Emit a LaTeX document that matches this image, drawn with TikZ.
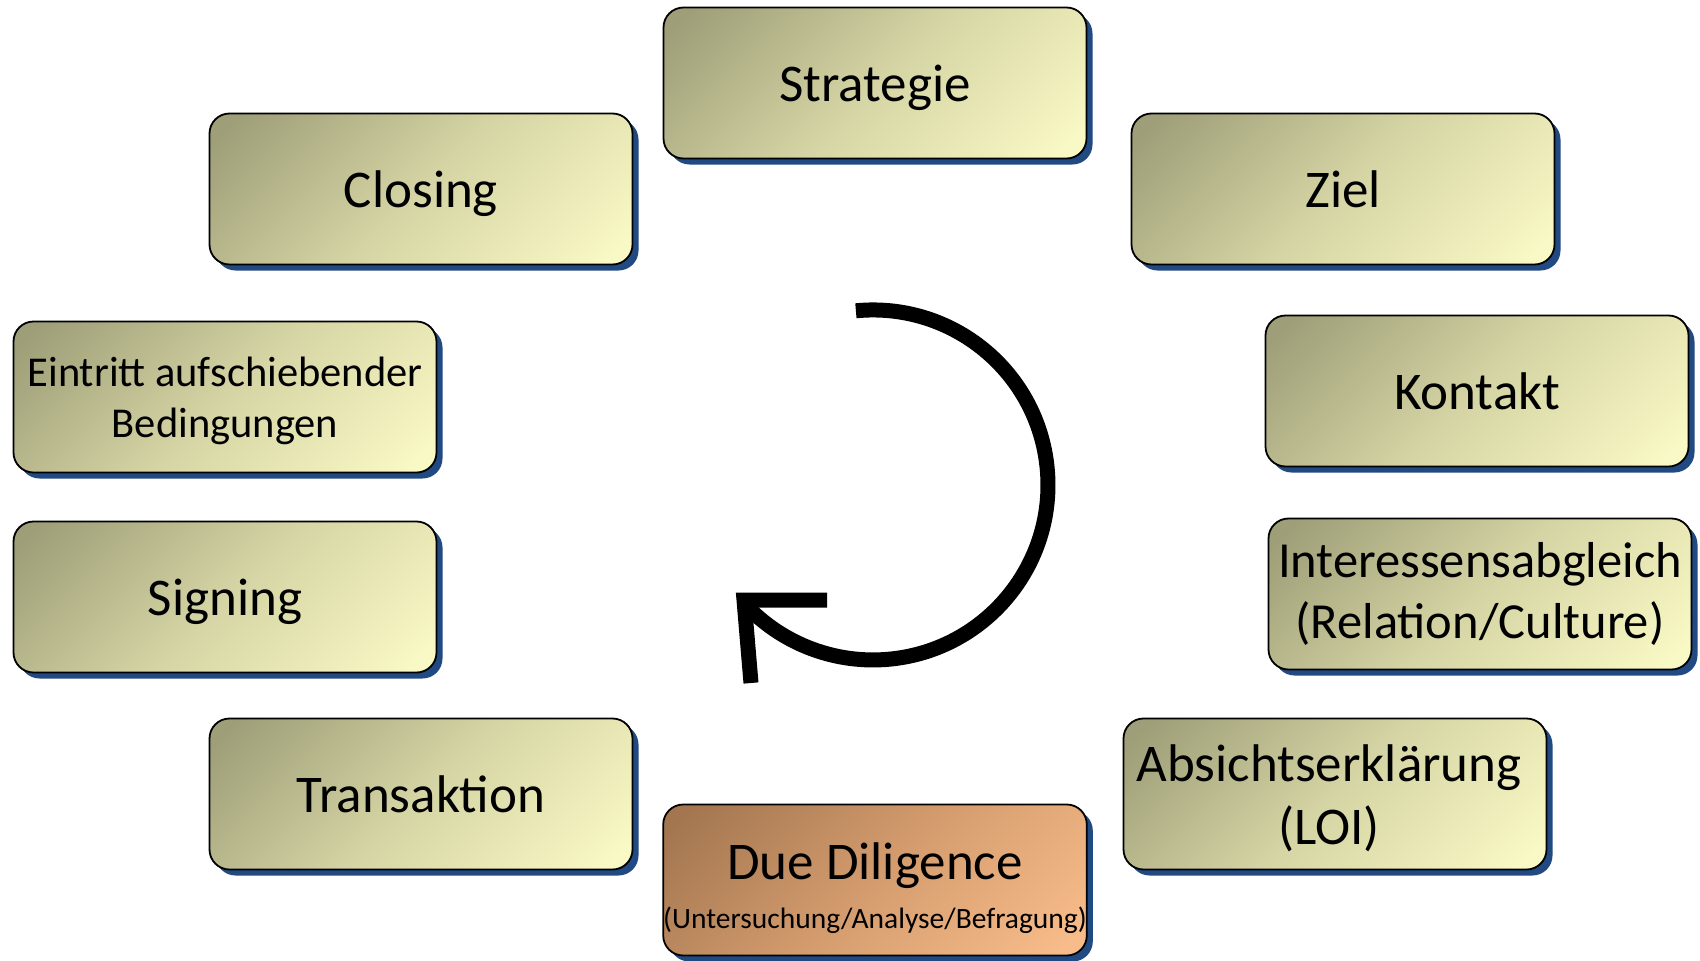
\documentclass[tikz,border=0pt]{standalone}
\usepackage{fontspec}
\setmainfont{Carlito}
\usetikzlibrary{shadows}
\definecolor{olivedark}{RGB}{158,158,120}
\definecolor{olivemid}{RGB}{213,212,164}
\definecolor{olivelight}{RGB}{249,249,197}
\definecolor{ddark}{RGB}{163,118,80}
\definecolor{ddmid}{RGB}{212,156,110}
\definecolor{dlight}{RGB}{248,188,138}
\definecolor{shadowblue}{RGB}{34,74,130}
\pgfdeclareverticalshading{olivegrad}{100bp}{color(0bp)=(olivelight); color(18bp)=(olivelight); color(50bp)=(olivemid); color(82bp)=(olivedark); color(100bp)=(olivedark)}
\pgfdeclareverticalshading{ddgrad}{100bp}{color(0bp)=(dlight); color(18bp)=(dlight); color(50bp)=(ddmid); color(82bp)=(ddark); color(100bp)=(ddark)}
\tikzset{
  stagebox/.style={rectangle, rounded corners=20pt, draw=black, line width=1.8pt,
    minimum width=423pt, minimum height=151pt, inner sep=0pt, align=center,
    shading=olivegrad, shading angle=45,
    drop shadow={shadow xshift=6pt, shadow yshift=-6pt, opacity=1, fill=shadowblue},
    font=\fontsize{53}{63}\selectfont},
  oneline/.style={text height=50pt, text depth=14pt},
  ddbox/.style={stagebox, shading=ddgrad, shading angle=45},
  cyclearrow/.style={line width=15pt, line cap=butt, miter limit=10}
}
\begin{document}
\begin{tikzpicture}[x=1pt, y=-1pt]
\useasboundingbox (0,0) rectangle (1700,961);
\node[stagebox, oneline] (strategie) at (875,83) {Strategie};
\node[stagebox, oneline] (closing) at (421,189) {Closing};
\node[stagebox, oneline] (ziel) at (1343,189) {Ziel};
\node[stagebox, font=\fontsize{42.5}{51}\selectfont] (eintritt) at (225,397) {\rule{0pt}{38pt}Eintritt aufschiebender\\Bedingungen};
\node[stagebox, oneline] (kontakt) at (1477,391) {Kontakt};
\node[stagebox, oneline] (signing) at (225,597) {Signing};
\node[stagebox, font=\fontsize{50.5}{61}\selectfont] (interesse) at (1480,594) {Interessensabgleich\\(Relation/Culture)};
\node[stagebox, oneline] (transaktion) at (421,794) {Transaktion};
\node[stagebox, font=\fontsize{53}{63}\selectfont] (absicht) at (1335,794) {\rule{0pt}{45pt}Absichtserklärung\hspace*{12pt}\\(LOI)\hspace*{12pt}};
\node[ddbox] (dd) at (875,880) {\rule{0pt}{53pt}Due Diligence\\[-14pt]{\fontsize{29.5}{35}\selectfont (Untersuchung/Analyse/Befragung)}};
% cycle arrow
\coordinate (arcstart) at (855.9,310.8);
\coordinate (tipright) at (827,600);
\coordinate (tipcorner) at (744,600);
\coordinate (tipdown) at (751,683);
\draw[cyclearrow] (arcstart) arc[start angle=-95.6, end angle=137, radius=175];
\draw[cyclearrow] (tipright) -- (tipcorner) -- (tipdown);
\end{tikzpicture}
\end{document}
